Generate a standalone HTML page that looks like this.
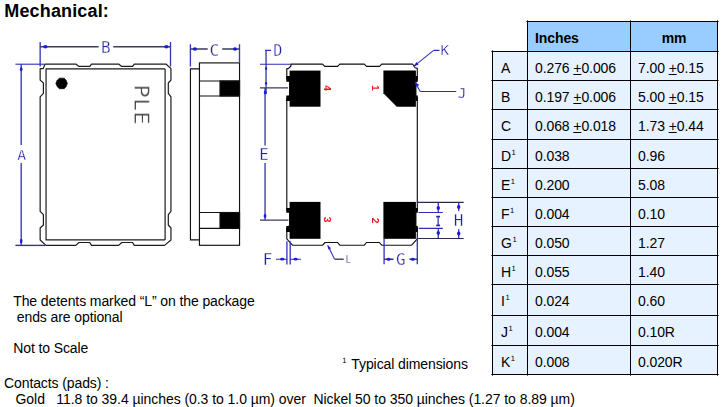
<!DOCTYPE html>
<html lang="en">
<head>
<meta charset="utf-8">
<title>Mechanical</title>
<style>
html,body{margin:0;padding:0;background:#fff;}
body{width:721px;height:407px;position:relative;overflow:hidden;font-family:"Liberation Sans",sans-serif;color:#000;}
h1{position:absolute;left:4.3px;top:0.8px;margin:0;font-size:18px;line-height:21px;font-weight:bold;white-space:pre;letter-spacing:0.15px;}
p{position:absolute;margin:0;font-size:14px;line-height:16px;white-space:pre;letter-spacing:-0.1px;}
#drawing{position:absolute;left:0;top:0;width:721px;height:407px;}
#drawing text{font-family:"DejaVu Sans Mono","Liberation Mono",monospace;}
#drawing #pins text{font-family:"Liberation Sans",sans-serif;}
table{position:absolute;left:492px;top:21px;border-collapse:collapse;table-layout:fixed;width:225px;font-size:14px;letter-spacing:-0.1px;}
td,th{border:1px solid #000;padding:7.8px 0 0 7px;text-align:left;font-weight:normal;background:#e6f2ff;white-space:pre;vertical-align:top;line-height:16px;box-sizing:border-box;}
tr{height:29px;}
tr.h30{height:30px;}
tr.h31{height:31px;}
thead th{background:#99ccff;font-weight:bold;}
thead th.blank{background:#fff;border-top:none;border-left:none;}
thead th.c{text-align:center;padding:7.8px 0 0 0;}
td:first-child{padding-left:8px;}
sup{font-size:7.6px;line-height:0;vertical-align:baseline;position:relative;top:-5.6px;margin-left:0.6px;letter-spacing:0;text-rendering:geometricPrecision;}
u{text-decoration:underline;text-underline-offset:1px;}
</style>
</head>
<body>
<h1>Mechanical:</h1>

<svg id="drawing" viewBox="0 0 721 407" width="721" height="407">
  <defs>
    <filter id="soft" x="-20%" y="-20%" width="140%" height="140%" color-interpolation-filters="sRGB"><feGaussianBlur stdDeviation="0.25"/></filter>
  </defs>
  <g id="topview" fill="none" stroke="#1c1c1c" stroke-width="1.2" stroke-linejoin="round">
    <path d="M45 64.05 H75.8 L79 66.4 H89.8 L91.5 64.05 H118.6 L121.8 66.4 H132.6 L134.3 64.05 H166 L170.95 68.6 V80.1 L168.3 83 V93.4 L170.95 96.8 V211.3 L168.3 214.6 V225 L170.95 228 V240 L164.5 245.4 H134.3 L132.6 242.5 H121.8 L118.6 245.4 H91.5 L89.8 242.5 H79 L75.8 245.4 H46 L40.15 240 V228 L43.4 225 V214.6 L40.15 211.3 V96.8 L43.4 93.4 V83 L40.15 80.1 V68.6 H43.3 Z"/>
    <path d="M46.05 68.8 H164.6 L165.1 69.3 V239.4 L164.6 239.9 H46.05 Z"/>
    <path id="pin1-dot" d="M55.9 83.4 L57.2 80.3 L59.4 78.2 H64.2 L66.2 80.4 L67.3 83.4 L66.2 86.5 L64.2 88.7 H59.4 L57.2 86.6 Z" fill="#000" stroke="#000" stroke-width="0.7"/>
  </g>
  <text id="marking" x="0" y="0" transform="translate(134.9 84.7) rotate(90) scale(1.1 1)" font-size="19" font-weight="200" letter-spacing="1.1" filter="url(#soft)" style="font-family:'DejaVu Sans Light','DejaVu Sans','Liberation Sans',sans-serif" fill="#333" stroke="#333" stroke-width="0.45">PLE</text>

  <g id="sideview" fill="none" stroke="#111" stroke-width="1.15">
    <path d="M199.45 68.8 H190.45 V239.8 H199.45"/>
    <rect x="199.45" y="62.9" width="40.1" height="182.4"/>
    <path d="M199.45 81 H239.55 M199.45 96 H239.55 M199.45 212.5 H239.55 M199.45 228.4 H239.55"/>
    <rect x="220" y="81" width="19.55" height="15" fill="#000"/>
    <rect x="220" y="212.5" width="19.55" height="15.9" fill="#000"/>
  </g>

  <g id="bottomview" fill="none" stroke="#111" stroke-width="1.15" stroke-linejoin="round">
    <path d="M291 64.05 H322.5 L324.7 66.4 H337.6 L339.8 64.05 H364.3 L366.5 66.4 H379.6 L381.7 64.05 H412.6 L415.1 67.7 L417.3 68.4 V78.5 L415.9 81.7 V95.5 L417.3 98.5 V210 L415.9 212.7 V225.5 L417.3 228.5 V238.8 L411.6 245.2 H381.7 L379.4 242.5 H366.5 L364.3 245.2 H339.8 L337.6 242.5 H325.1 L322.6 245.2 H292.5 L286.8 238.8 V228.5 L289.6 225.5 V212.7 L286.8 210 V98.5 L289.6 95.5 V81.7 L286.8 78.5 V68.6 H288.4 L290.9 66 Z"/>
    <g id="pads" fill="#000" stroke="none">
      <rect x="289.6" y="70.6" width="30.9" height="36.1"/>
      <path d="M383.4 70.5 H415.9 V106.7 H396.8 L383.4 93.3 Z"/>
      <rect x="289.6" y="201.9" width="30.9" height="36.9"/>
      <rect x="383.4" y="201.9" width="32.5" height="36.9"/>
      <path d="M286.3 76 H290 V81.7 H286.3 Z M286.3 95.5 H290 V100.9 H286.3 Z M286.3 208 H290 V212.7 H286.3 Z M286.3 226 H290 V232 H286.3 Z"/>
      <path d="M415.5 76 H417.8 V81.7 H415.5 Z M415.5 95.5 H417.8 V100.9 H415.5 Z M415.5 208 H417.8 V212.7 H415.5 Z M415.5 226 H417.8 V232 H415.5 Z"/>
    </g>
  </g>
  <g id="pins" filter="url(#soft)" text-rendering="geometricPrecision" fill="#f01818" font-size="10.2" font-weight="bold" style="font-family:'Liberation Sans',sans-serif" text-anchor="middle">
    <text transform="translate(323.8 88.2) rotate(90)">4</text>
    <text transform="translate(371.8 87.9) rotate(90)">1</text>
    <text transform="translate(324 219.5) rotate(90)">3</text>
    <text transform="translate(371.7 220.5) rotate(90)">2</text>
  </g>

  <g id="dims" fill="none" stroke="#3838ba" stroke-width="1.35">
    <!-- vertical extension / dimension lines -->
    <path id="dim-b-ext" d="M40.15 42 V66.4 M170.5 42 V66.4"/>
    <path id="dim-a-line" d="M21.2 64.2 V145 M21.2 163 V245.4"/>
    <path id="dim-c-ext" d="M190.4 44.2 V66.6 M239.5 44.2 V62.6"/>
    <path id="dim-de-line" d="M266.05 50 V94 M265.05 88 V145.5 M265.05 163 V220.1"/>
    <path id="dim-f-ext" d="M286.9 241.3 V264.4 M290.2 241.3 V264.4"/>
    <path id="dim-g-ext" d="M384.1 238.5 V264.2 M417.3 238.5 V264.2"/>
    <path id="dim-hi-line" d="M438.3 202 V212.5 M438.3 228.4 V238.8 M458.7 202 V211 M458.7 229.3 V238.8"/>
    <!-- leaders -->
    <path id="leader-l" stroke-width="1.15" d="M327.8 245.5 L334.5 259"/>
    <path id="leader-k" stroke-width="1.15" d="M413.8 66.4 L433.6 50.4"/>
    <path id="leader-j" stroke-width="1.15" d="M415.1 82.3 L420.2 91.5"/>
    <!-- horizontal blue lines -->
    <g stroke="#2e2eb4" stroke-width="1.1">
      <path id="dim-a-ext" d="M15.4 64.2 H44"/>
      <path id="dim-d-ext" d="M271 50.4 H265.3 M260 64.2 H291"/>
      <path id="dim-hi-ext" d="M418.6 212.5 H442.8 M418.6 228.4 H442.8"/>
      <path id="dim-f-line" d="M276 259.2 H286.9 M290.2 259.2 H301"/>
      <path id="leader-kj" d="M433.6 50.4 H439.5 M420.2 91.5 H456.2"/>
    </g>
    <!-- horizontal dark lines -->
    <g stroke="#3c3c58" stroke-width="1.4">
      <path id="dim-b-line" d="M40.15 46.75 H98.6 M113.3 46.75 H170.5"/>
      <path id="dim-a-ext2" d="M15.4 245.4 H45" stroke="#383878"/>
      <path id="dim-h-ext" stroke="#2a2a50" stroke-width="1.15" d="M416.9 202.35 H463.7 M417.6 238.5 H463.7"/>
      <path id="dim-c-line" d="M190.4 49 H207.7 M222.2 49 H239.5"/>
      <path id="dim-e-ext" d="M260 87.9 H288 M260 220.1 H288.4"/>
      <path id="dim-g-line" d="M384.1 259.2 H393.5 M409.4 259.2 H417.3"/>
      <path id="leader-l2" d="M334.5 259.2 H343.7"/>
    </g>
    <g id="arrows" fill="#1c1ce0" stroke="none">
      <ellipse cx="45.4" cy="46.75" rx="2.2" ry="1.7"/>
      <ellipse cx="166.4" cy="46.75" rx="2.2" ry="1.7"/>
      <ellipse cx="21.2" cy="69.3" rx="1.3" ry="2"/>
      <ellipse cx="21.2" cy="241" rx="1.3" ry="2.2"/>
      <ellipse cx="194.9" cy="49" rx="2.1" ry="1.7"/>
      <ellipse cx="235" cy="49" rx="2.1" ry="1.7"/>
      <ellipse cx="266.05" cy="68.5" rx="1.1" ry="1.5" fill="#2222c0"/>
      <ellipse cx="266.05" cy="83.2" rx="1.1" ry="1.5" fill="#2222c0"/>
      <ellipse cx="265.2" cy="92.5" rx="1.4" ry="2"/>
      <ellipse cx="265.05" cy="216" rx="1.4" ry="2"/>
      <ellipse cx="282.2" cy="259.2" rx="2.1" ry="1.4"/>
      <ellipse cx="295.6" cy="259.2" rx="2.1" ry="1.4"/>
      <ellipse cx="388.6" cy="259.2" rx="2.1" ry="1.5"/>
      <ellipse cx="412.8" cy="259.2" rx="2.1" ry="1.5"/>
      <ellipse cx="438.3" cy="208" rx="1.7" ry="1.9"/>
      <ellipse cx="438.3" cy="233" rx="1.7" ry="1.9"/>
      <ellipse cx="458.7" cy="207" rx="1.7" ry="1.9"/>
      <ellipse cx="458.7" cy="233.5" rx="1.7" ry="1.9"/>
      <path d="M413.6 66.6 L418.6 64.6 L416.4 62 Z"/>
      <path d="M414.9 82 L416.2 86.6 L419.4 85 Z"/>
      <path d="M327.4 245.2 L328.4 249.6 L331.2 248.2 Z"/>
    </g>
  </g>
  <g id="dimlabels" fill="#2222a2" font-size="16" text-anchor="middle" stroke="#fff" stroke-width="0.3" filter="url(#soft)">
    <text id="lbl-B" transform="translate(105.7 52.9)" font-size="16">B</text>
    <text id="lbl-A" transform="translate(21.7 159.7)" font-size="14.8">A</text>
    <text id="lbl-C" transform="translate(214.3 55.7)" font-size="16.3">C</text>
    <text id="lbl-D" transform="translate(277.9 55.8)" font-size="15.1">D</text>
    <text id="lbl-E" transform="translate(264.0 160.3)" font-size="15.8">E</text>
    <text id="lbl-F" transform="translate(267.6 264.7)" font-size="16">F</text>
    <text id="lbl-G" transform="translate(400.9 264.7)" font-size="16">G</text>
    <text id="lbl-H" transform="translate(458.6 225.7)" font-size="16">H</text>
    <text id="lbl-J" transform="translate(462.1 97.8)" font-size="14.4">J</text>
    <text id="lbl-K" transform="translate(444.7 55.3)" font-size="14.2">K</text>
    <text id="lbl-I" transform="translate(438.2 225.7) scale(0.62 1)" font-size="14.3" stroke="#2222a2" stroke-width="0.35">I</text>
    <text id="lbl-L" transform="translate(348.3 263.4) scale(0.9 1)" font-size="10.5">L</text>
  </g>
  <g id="table-ticks" fill="#000" fill-opacity="0.6" shape-rendering="crispEdges">
    <rect x="492" y="50" width="1" height="1"/><rect x="492" y="375" width="1" height="1"/>
    <rect x="527" y="20" width="1" height="1"/><rect x="527" y="375" width="1" height="1"/>
    <rect x="630" y="20" width="1" height="1"/><rect x="630" y="375" width="1" height="1"/>
    <rect x="717" y="20" width="1" height="1"/><rect x="717" y="375" width="1" height="1"/>
    <rect x="526" y="21" width="1" height="1"/><rect x="718" y="21" width="1" height="1"/>
    <rect x="491" y="51" width="1" height="1"/><rect x="718" y="51" width="1" height="1"/>
    <rect x="491" y="80" width="1" height="1"/><rect x="718" y="80" width="1" height="1"/>
    <rect x="491" y="109" width="1" height="1"/><rect x="718" y="109" width="1" height="1"/>
    <rect x="491" y="139" width="1" height="1"/><rect x="718" y="139" width="1" height="1"/>
    <rect x="491" y="168" width="1" height="1"/><rect x="718" y="168" width="1" height="1"/>
    <rect x="491" y="197" width="1" height="1"/><rect x="718" y="197" width="1" height="1"/>
    <rect x="491" y="226" width="1" height="1"/><rect x="718" y="226" width="1" height="1"/>
    <rect x="491" y="255" width="1" height="1"/><rect x="718" y="255" width="1" height="1"/>
    <rect x="491" y="284" width="1" height="1"/><rect x="718" y="284" width="1" height="1"/>
    <rect x="491" y="315" width="1" height="1"/><rect x="718" y="315" width="1" height="1"/>
    <rect x="491" y="345" width="1" height="1"/><rect x="718" y="345" width="1" height="1"/>
    <rect x="491" y="374" width="1" height="1"/><rect x="718" y="374" width="1" height="1"/>
  </g>
</svg>

<p style="left:13.2px;top:292.5px">The detents marked “L” on the package</p>
<p style="left:13px;top:308.5px"> ends are optional</p>
<p style="left:13.2px;top:339.5px">Not to Scale</p>
<p style="left:341.6px;top:355.5px"><sup style="margin-right:1.4px">1</sup> Typical dimensions</p>
<p style="left:4px;top:374.6px">Contacts (pads) :</p>
<p style="left:4px;top:390.6px;letter-spacing:-0.055px">   Gold   11.8 to 39.4 µinches (0.3 to 1.0 µm) over  Nickel 50 to 350 µinches (1.27 to 8.89 µm)</p>

<table>
  <colgroup><col style="width:35px"><col style="width:103px"><col style="width:87px"></colgroup>
  <thead>
    <tr class="h30"><th class="blank"></th><th>Inches</th><th class="c">mm</th></tr>
  </thead>
  <tbody>
    <tr><td>A</td><td>0.276 <u>+</u>0.006</td><td>7.00 <u>+</u>0.15</td></tr>
    <tr><td>B</td><td>0.197 <u>+</u>0.006</td><td>5.00 <u>+</u>0.15</td></tr>
    <tr class="h30"><td>C</td><td>0.068 <u>+</u>0.018</td><td>1.73 <u>+</u>0.44</td></tr>
    <tr><td>D<sup>1</sup></td><td>0.038</td><td>0.96</td></tr>
    <tr><td>E<sup>1</sup></td><td>0.200</td><td>5.08</td></tr>
    <tr><td>F<sup>1</sup></td><td>0.004</td><td>0.10</td></tr>
    <tr><td>G<sup>1</sup></td><td>0.050</td><td>1.27</td></tr>
    <tr><td>H<sup>1</sup></td><td>0.055</td><td>1.40</td></tr>
    <tr class="h31"><td>I<sup>1</sup></td><td>0.024</td><td>0.60</td></tr>
    <tr class="h30"><td>J<sup>1</sup></td><td>0.004</td><td>0.10R</td></tr>
    <tr><td>K<sup>1</sup></td><td>0.008</td><td>0.020R</td></tr>
  </tbody>
</table>
</body>
</html>
